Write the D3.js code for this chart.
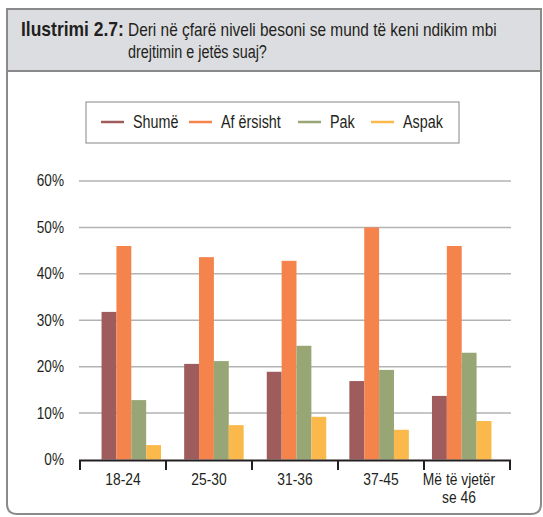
<!DOCTYPE html>
<html>
<head>
<meta charset="utf-8">
<script src="https://d3js.org/d3.v7.min.js"></script>
<style>
  body { margin: 0; background: #fff; }
  text { font-family: "Liberation Sans", Arial, sans-serif; fill: #231f20; }
</style>
</head>
<body>
<svg width="543" height="517"></svg>
<script>
const categories = ["18-24", "25-30", "31-36", "37-45", "Më të vjetër|se 46"];
const seriesNames = ["Shumë", "Af ërsisht", "Pak", "Aspak"];
const shume = [31.8, 20.6, 18.9, 16.9, 13.7];
const aferisht = [46.0, 43.6, 42.8, 50.0, 46.0];
const pak = [12.8, 21.2, 24.5, 19.3, 23.0];
const aspak = [3.1, 7.4, 9.2, 6.4, 8.3];
const yTicks = [0, 10, 20, 30, 40, 50, 60];
const colors = ["#9e5c5c", "#f4844c", "#98a675", "#fbb84b"];

const series = [shume, aferisht, pak, aspak];

const svg = d3.select("svg");

// squeeze text horizontally around its anchor so it looks like the condensed face of the original
// k < 1 is a factor, k > 1 is a target width in px
function condense(sel, k) {
  sel.each(function () {
    const t = d3.select(this);
    const x = +t.attr("x"), yy = +t.attr("y");
    const len = this.getComputedTextLength();
    const f = k > 1 ? k / len : k;
    t.attr("transform", `translate(${x},${yy}) scale(${f},1) translate(${-x},${-yy})`);
  });
}

// frame
svg.append("path")
  .attr("d", "M7,9 H541 V504 Q541,514 531,514 H17 Q7,514 7,504 Z")
  .attr("fill", "#fff")
  .attr("stroke", "#8a8a8a")
  .attr("stroke-width", 2);

svg.append("rect")
  .attr("x", 7).attr("y", 9)
  .attr("width", 534).attr("height", 62)
  .attr("fill", "#dcdde0")
  .attr("stroke", "#8a8a8a")
  .attr("stroke-width", 2);

svg.append("text").attr("font-size", 19.5)
  .attr("x", 21).attr("y", 36)
  .attr("font-weight", "bold")
  .text("Ilustrimi 2.7:")
  .call(condense, 103);
svg.append("text").attr("font-size", 19)
  .attr("x", 128).attr("y", 36)
  .text("Deri në çfarë niveli besoni se mund të keni ndikim mbi")
  .call(condense, 369);
svg.append("text").attr("font-size", 19)
  .attr("x", 128).attr("y", 58)
  .text("drejtimin e jetës suaj?")
  .call(condense, 139);

// scales
const y = d3.scaleLinear().domain([0, 60]).range([459.5, 181]);
const xAxisScale = d3.scaleBand().domain(categories).range([80, 510]);
const x0 = d3.scaleBand().domain(categories).range([90, 503])
  .paddingInner(0.28).paddingOuter(0.14);
const x1 = d3.scaleBand().domain(seriesNames).range([0, x0.bandwidth()]);

// gridlines
svg.append("g")
  .selectAll("line")
  .data(yTicks.filter(d => d > 0))
  .join("line")
  .attr("x1", 79).attr("x2", 511)
  .attr("y1", d => y(d)).attr("y2", d => y(d))
  .attr("stroke", "#b3b3b3")
  .attr("stroke-width", 1.5);

// y labels
svg.append("g")
  .selectAll("text")
  .data(yTicks)
  .join("text")
  .attr("x", 64)
  .attr("y", d => y(d) + 5.5)
  .attr("text-anchor", "end")
  .attr("font-size", 16)
  .text(d => d + "%")
  .call(condense, 0.85);

// bars
const groups = svg.append("g")
  .selectAll("g")
  .data(categories)
  .join("g")
  .attr("transform", d => `translate(${x0(d)},0)`);

groups.selectAll("rect")
  .data((d, i) => series.map((s, j) => ({ name: seriesNames[j], value: s[i], color: colors[j] })))
  .join("rect")
  .attr("x", d => x1(d.name))
  .attr("y", d => y(d.value))
  .attr("width", x1.bandwidth())
  .attr("height", d => y(0) - y(d.value))
  .attr("fill", d => d.color);

// x axis
const xAxis = svg.append("g");
xAxis.append("line")
  .attr("x1", 79).attr("x2", 511)
  .attr("y1", 460.5).attr("y2", 460.5)
  .attr("stroke", "#231f20").attr("stroke-width", 2.2);

const bounds = categories.map(c => xAxisScale(c)).concat([xAxisScale.range()[1]]);
xAxis.selectAll(".tick")
  .data(bounds)
  .join("line")
  .attr("class", "tick")
  .attr("x1", d => d).attr("x2", d => d)
  .attr("y1", 460).attr("y2", 470)
  .attr("stroke", "#231f20").attr("stroke-width", 2);

categories.forEach((d, ci) => {
  d.split("|").forEach((l, i) => {
    xAxis.append("text")
      .attr("x", xAxisScale(d) + xAxisScale.bandwidth() / 2 - (ci === categories.length - 1 ? 8 : 0))
      .attr("y", 485.5 + i * 17.5)
      .attr("text-anchor", "middle")
      .attr("font-size", 16.5)
      .text(l)
      .call(condense, 0.84);
  });
});

// legend
const legend = svg.append("g");
legend.append("rect")
  .attr("x", 86).attr("y", 102)
  .attr("width", 373).attr("height", 41)
  .attr("fill", "#fff")
  .attr("stroke", "#9a9a9a")
  .attr("stroke-width", 1.2);

const items = legend.selectAll(".item")
  .data(seriesNames)
  .join("g")
  .attr("class", "item")
  .attr("transform", (d, i) => `translate(${[101, 189, 298, 371][i]},0)`);

items.append("line")
  .attr("x1", 0).attr("x2", 23)
  .attr("y1", 122).attr("y2", 122)
  .attr("stroke", (d, i) => colors[i])
  .attr("stroke-width", 2.5);

items.append("text")
  .attr("x", 32)
  .attr("y", 128.5)
  .attr("font-size", 17.5)
  .text(d => d)
  .call(condense, 0.82);
</script>
</body>
</html>
